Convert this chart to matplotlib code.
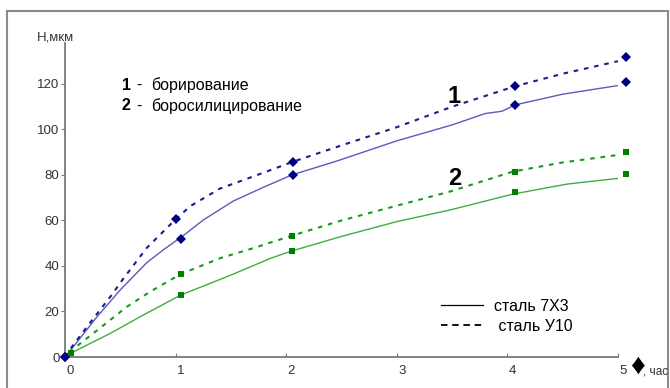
import matplotlib
matplotlib.use("Agg")
import matplotlib.pyplot as plt
import matplotlib.transforms as mtransforms
from matplotlib.lines import Line2D
from matplotlib.patches import Rectangle

plt.rcParams['font.family'] = ['Liberation Sans', 'DejaVu Sans']

# marker points (time, h)
t_marks_b = [0.0, 1.0, 2.06, 4.07, 5.07]
h_u10_b = [0.0, 60.5, 85.8, 119.0, 131.7]
t_marks_b2 = [0.0, 1.05, 2.06, 4.07, 5.07]
h_7x3_b = [0.0, 52.0, 80.0, 110.8, 120.7]
t_marks_s = [0.05, 1.05, 2.05, 4.07, 5.07]
h_u10_s = [1.6, 36.5, 53.3, 81.5, 90.2]
h_7x3_s = [1.6, 27.3, 46.6, 72.4, 80.4]

# smoothed curves
t_line_7x3_b = [0, 0.075, 0.29, 0.5, 0.74, 0.9, 1.06, 1.25, 1.52, 1.79, 2.05,
                2.45, 3.0, 3.5, 3.8, 3.95, 4.07, 4.5, 5.0]
h_line_7x3_b = [0, 4.5, 17.7, 29.5, 41.5, 47.5, 53.0, 60.2, 68.5, 74.5, 80,
                86, 95, 102, 107, 108, 110.8, 115.5, 119.3]
t_line_u10_b = [0, 0.075, 0.21, 0.41, 0.53, 0.74, 1.0, 1.13, 1.4, 1.7, 2.06,
                2.5, 3.0, 3.5, 4.07, 4.5, 5.0]
h_line_u10_b = [0, 5.3, 14, 26.5, 34.6, 48.0, 60.5, 66.2, 74, 79.3, 85.8,
                93, 101, 110, 119, 124.5, 130]
t_line_7x3_s = [0.05, 0.41, 0.71, 1.05, 1.5, 1.86, 2.05, 2.5, 3.0, 3.48, 4.05,
                4.54, 5.0]
h_line_7x3_s = [1.6, 10.4, 18.5, 27.3, 36, 43.4, 46.6, 53, 59.5, 64.6, 71.6,
                76, 78.5]
t_line_u10_s = [0.05, 0.1, 0.35, 0.56, 0.77, 0.98, 1.05, 1.4, 1.7, 2.05, 2.5,
                3.0, 3.48, 4.05, 4.5, 5.0]
h_line_u10_s = [1.6, 4.5, 14, 22.1, 28.7, 34.6, 36.5, 43.4, 47.8, 53.3, 60,
                66.5, 72.7, 81.5, 85.5, 88.8]

x_ticks = [0, 1, 2, 3, 4, 5]
y_ticks = [0, 20, 40, 60, 80, 100, 120]

W, H = 670, 388
fig = plt.figure(figsize=(W / 100, H / 100), dpi=100)
ax = fig.add_axes([65 / W, (H - 357) / H, 553 / W, 314 / H])

blue_mk = '#000080'
green_mk = '#008000'
dash = (0, (2.2, 2.8))

ax.plot(t_line_7x3_b, h_line_7x3_b, color='#5a5abf', lw=1.0)
ax.plot(t_line_u10_b, h_line_u10_b, color='#1c1c90', lw=1.5, ls=dash)
ax.plot(t_line_7x3_s, h_line_7x3_s, color='#3fae3f', lw=1.0)
ax.plot(t_line_u10_s, h_line_u10_s, color='#1a9a1a', lw=1.5, ls=dash)

ax.plot(t_marks_b, h_u10_b, ls='none', marker='D', ms=4.6, color=blue_mk,
        mew=0, clip_on=False, zorder=5)
ax.plot(t_marks_b2, h_7x3_b, ls='none', marker='D', ms=4.6, color=blue_mk,
        mew=0, clip_on=False, zorder=5)
ax.plot(t_marks_s, h_u10_s, ls='none', marker='s', ms=5, color=green_mk,
        mew=0, clip_on=False, zorder=5)
ax.plot(t_marks_s, h_7x3_s, ls='none', marker='s', ms=5, color=green_mk,
        mew=0, clip_on=False, zorder=5)

ax.set_xlim(0, 5)
ax.set_ylim(0, 138)
for s in ['top', 'right']:
    ax.spines[s].set_visible(False)
for s in ['left', 'bottom']:
    ax.spines[s].set_color('#7a7a7a')
    ax.spines[s].set_linewidth(1.3)

ax.set_xticks(x_ticks)
ax.set_yticks(y_ticks)
ax.tick_params(axis='x', direction='in', length=3, color='#7a7a7a',
               labelsize=9.5, labelcolor='#333333', pad=6)
ax.tick_params(axis='y', direction='out', length=3, color='#7a7a7a',
               labelsize=9.5, labelcolor='#333333', pad=1)
off = mtransforms.ScaledTranslation(5 / 100, 0, fig.dpi_scale_trans)
for lab in ax.get_xticklabels():
    lab.set_transform(lab.get_transform() + off)

# curve numbers
ax.text(3.52, 114.3, '1', fontsize=17, fontweight='bold', ha='center', va='center')
ax.text(3.52, 78.5, '2', fontsize=17, fontweight='bold', ha='center', va='center')

# explanation text
fs = 11.5
fig.text(122 / W, 1 - 85 / H, '1', fontsize=fs, fontweight='bold', va='center')
fig.text(136 / W, 1 - 85 / H, '-', fontsize=fs, va='center')
fig.text(151 / W, 1 - 85 / H, 'борирование', fontsize=fs, va='center')
fig.text(122 / W, 1 - 106 / H, '2', fontsize=fs, fontweight='bold', va='center')
fig.text(136 / W, 1 - 106 / H, '-', fontsize=fs, va='center')
fig.text(151 / W, 1 - 106 / H, 'боросилицирование', fontsize=fs, va='center')

# axis captions
fig.text(37 / W, 1 - 37 / H, 'Н,мкм', fontsize=9.5, color='#333333', va='center')
fig.text(630 / W, 1 - 366 / H, '♦', fontsize=21, color='black', va='center')
fig.text(668 / W, 1 - 372 / H, ', час', fontsize=8.5, color='#333333',
         va='center', ha='right')

# steel legend
handles = [Line2D([], [], color='black', lw=0.9),
           Line2D([], [], color='black', lw=1.3, ls=(0, (3.6, 2.6)))]
leg = fig.legend(handles, ['сталь 7Х3', ' сталь У10'], loc='upper left',
                 bbox_to_anchor=(441 / W, 1 - 299 / H), frameon=False,
                 fontsize=fs, handlelength=2.6, handletextpad=0.7,
                 labelspacing=0.3, borderpad=0, borderaxespad=0)

# outer frame
fig.patches.append(Rectangle((7 / W, -0.05), (668 - 7) / W, 1.05 - 11 / H,
                             transform=fig.transFigure, fill=False,
                             edgecolor='#8a8a8a', lw=1.5))

fig.savefig('out.png', dpi=100)
